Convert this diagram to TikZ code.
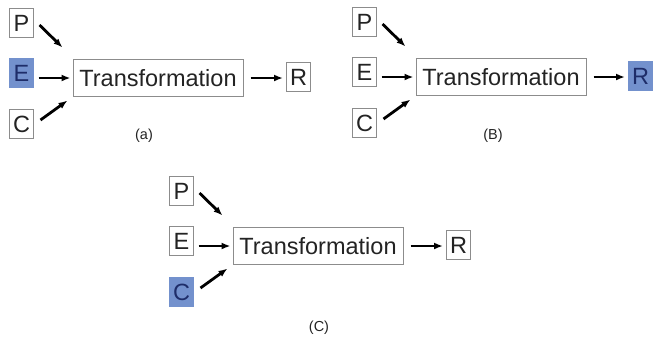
\documentclass[tikz,border=0pt]{standalone}
\usepackage{fontspec}
\setmainfont{Liberation Sans}
\usetikzlibrary{arrows.meta}
\definecolor{hifill}{RGB}{115,145,205}
\definecolor{hitext}{RGB}{30,45,105}
\definecolor{boxline}{RGB}{140,140,140}
\definecolor{inktext}{RGB}{35,35,35}
\tikzset{
  lbox/.style={draw=boxline, line width=1pt, minimum width=24pt, minimum height=29pt, inner sep=0pt, text=inktext, font=\fontsize{23.5}{26}\selectfont},
  tbox/.style={draw=boxline, line width=1pt, minimum width=170pt, minimum height=37pt, inner sep=0pt, text=inktext, font=\fontsize{23.5}{26}\selectfont},
  hi/.style={fill=hifill, draw=hifill, text=hitext},
  arr/.style={line width=2.8pt, -{Latex[length=9pt,width=7pt]}},
  captext/.style={text=inktext, font=\fontsize{14.5}{16}\selectfont}
}
\begin{document}
\begin{tikzpicture}[x=1pt,y=-1pt]
\useasboundingbox (0,0) rectangle (656,341);
% panel (a): E highlighted
\begin{scope}
  \node[lbox] (aP) at (21.5,23) {P};
  \node[lbox,hi] (aE) at (21.5,73) {E};
  \node[lbox] (aC) at (21.5,124) {C};
  \node[tbox] (aT) at (158,78) {Transformation};
  \node[lbox] (aR) at (298.5,77) {R};
  \draw[arr] ([shift={(5.5,2)}]aP.east) -- ([shift={(-10,-11.5)}]aT.north west);
  \draw[arr, shorten <=4.5pt, shorten >=2pt] (aE.east |- aT.west) -- (aT.west);
  \draw[arr] ([shift={(6.5,-4)}]aC.east) -- ([shift={(-5,3.5)}]aT.south west);
  \draw[arr, shorten <=7pt, shorten >=3pt] (aT.east) -- (aT.east -| aR.west);
  \node[captext] (alab) at (144,136) {(a)};
\end{scope}
% panel (B): R highlighted
\begin{scope}[shift={(343,-1)}]
  \node[lbox] (bP) at (21.5,23) {P};
  \node[lbox] (bE) at (21.5,73) {E};
  \node[lbox] (bC) at (21.5,124) {C};
  \node[tbox] (bT) at (158,78) {Transformation};
  \node[lbox,hi] (bR) at (297.5,77) {R};
  \draw[arr] ([shift={(5.5,2)}]bP.east) -- ([shift={(-10,-11.5)}]bT.north west);
  \draw[arr, shorten <=4.5pt, shorten >=2pt] (bE.east |- bT.west) -- (bT.west);
  \draw[arr] ([shift={(6.5,-4)}]bC.east) -- ([shift={(-5,3.5)}]bT.south west);
  \draw[arr, shorten <=7pt, shorten >=3pt] (bT.east) -- (bT.east -| bR.west);
  \node[captext] (blab) at (150,137) {(B)};
\end{scope}
% panel (C): C highlighted
\begin{scope}[shift={(160,168)}]
  \node[lbox] (cP) at (21.5,23) {P};
  \node[lbox] (cE) at (21.5,73) {E};
  \node[lbox,hi] (cC) at (21.5,124) {C};
  \node[tbox] (cT) at (158,78) {Transformation};
  \node[lbox] (cR) at (298.5,77) {R};
  \draw[arr] ([shift={(5.5,2)}]cP.east) -- ([shift={(-10,-11.5)}]cT.north west);
  \draw[arr, shorten <=4.5pt, shorten >=2pt] (cE.east |- cT.west) -- (cT.west);
  \draw[arr] ([shift={(6.5,-4)}]cC.east) -- ([shift={(-5,3.5)}]cT.south west);
  \draw[arr, shorten <=7pt, shorten >=3pt] (cT.east) -- (cT.east -| cR.west);
  \node[captext] (clab) at (159,160) {(C)};
\end{scope}
\end{tikzpicture}
\end{document}
